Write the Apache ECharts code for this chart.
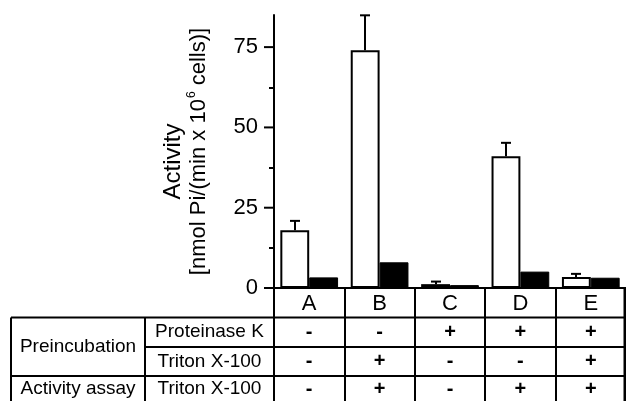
<!DOCTYPE html>
<html><head><meta charset="utf-8">
<script src="https://cdn.jsdelivr.net/npm/echarts@6/dist/echarts.min.js"></script>
<style>html,body{margin:0;padding:0;background:#fff}#c{width:626px;height:401px}</style>
</head><body><div id="c"></div>
<script>
const categories = ['A', 'B', 'C', 'D', 'E'];
const whiteValues = [18.0, 74.0, 1.2, 41.0, 3.4];
const whiteErrors = [2.9, 10.9, 0.8, 4.2, 1.0];
const blackValues = [3.3, 8.0, 0.9, 5.1, 3.2];
const yTicks = [0, 25, 50, 75];
const yMinorTicks = [12.5, 37.5, 62.5];
const proteinaseK = ['-', '-', '+', '+', '+'];
const tritonPre = ['-', '+', '-', '-', '+'];
const tritonAssay = ['-', '+', '-', '+', '+'];
const groupLabels = ['Preincubation', 'Activity assay'];
const rowLabels = ['Proteinase K', 'Triton X-100', 'Triton X-100'];

const FONT = '"Liberation Sans", Arial, sans-serif';
const catGap = 0.18;
const chart = echarts.init(document.getElementById('c'), null, {renderer: 'canvas'});

const option = {
  animation: false,
  backgroundColor: '#fff',
  textStyle: {fontFamily: FONT, color: '#000'},
  grid: {left: 274, top: 15, width: 353, height: 273},
  xAxis: {
    type: 'category',
    data: categories,
    axisLine: {show: true, lineStyle: {color: '#000', width: 2}},
    axisTick: {show: true, interval: 0, length: 113, lineStyle: {color: '#000', width: 2}},
    axisLabel: {fontSize: 22, color: '#000', margin: 5, fontFamily: FONT}
  },
  yAxis: [{
    type: 'value', min: 0, max: 85, position: 'left',
    axisLine: {show: true, lineStyle: {color: '#000', width: 2}},
    axisTick: {show: false},
    axisLabel: {customValues: yTicks, fontSize: 22, color: '#000', margin: 16, fontFamily: FONT,
      backgroundColor: 'transparent'},
    splitLine: {show: false},
    name: '{a|Activity}\n{b|[nmol Pi/(min x 10}{s|6}{b| cells)]}',
    nameLocation: 'middle',
    nameGap: 63,
    nameTextStyle: {
      fontFamily: FONT, color: '#000',
      rich: {
        a: {fontSize: 24, fontFamily: FONT, color: '#000', lineHeight: 25, padding: [0, 20, 0, 0]},
        b: {fontSize: 22, fontFamily: FONT, color: '#000', lineHeight: 25},
        s: {fontSize: 12, fontFamily: FONT, color: '#000', lineHeight: 25, verticalAlign: 'top', padding: [0, 0, 0, 1]}
      }
    }
  }, {
    type: 'value', min: 0, max: 85, position: 'left',
    axisLine: {show: false},
    axisLabel: {show: false},
    axisTick: {show: true, customValues: yMinorTicks, length: 5, lineStyle: {color: '#000', width: 2}},
    splitLine: {show: false}
  }],
  series: [{
    type: 'bar', name: 'white', data: whiteValues,
    barGap: '0%', barCategoryGap: (catGap * 100) + '%',
    itemStyle: {color: '#fff', borderColor: '#000', borderWidth: 2}
  }, {
    type: 'bar', name: 'black', data: blackValues,
    barGap: '0%', barCategoryGap: (catGap * 100) + '%',
    itemStyle: {color: '#000', borderColor: '#000', borderWidth: 1}
  }, {
    type: 'custom', name: 'error', z: 5, clip: false,
    data: whiteValues.map((v, i) => [i, v, whiteErrors[i]]),
    encode: {x: 0, y: 1},
    renderItem: function (params, api) {
      const i = api.value(0), v = api.value(1), e = api.value(2);
      const cw = api.size([1, 0])[0];
      const bw = cw * (1 - catGap) / 2;
      const base = api.coord([i, v]);
      const top = api.coord([i, v + e]);
      const x = Math.round(base[0] - bw / 2);
      const cap = 5;
      return {type: 'group', children: [
        {type: 'line', shape: {x1: x, y1: base[1], x2: x, y2: top[1]}, style: {stroke: '#000', lineWidth: 2}},
        {type: 'line', shape: {x1: x - cap, y1: top[1], x2: x + cap, y2: top[1]}, style: {stroke: '#000', lineWidth: 2}}
      ]};
    }
  }, {
    // major y-axis ticks at the labelled values
    type: 'custom', name: 'majorTicks', z: 20, silent: true, clip: false,
    data: yTicks.map(v => [0, v]),
    encode: {x: 0, y: 1},
    renderItem: function (params, api) {
      const y = api.coord([0, api.value(1)])[1];
      const x0 = params.coordSys.x;
      return {type: 'line', shape: {x1: x0 - 10, y1: y, x2: x0, y2: y}, style: {stroke: '#000', lineWidth: 2}};
    }
  }]
};
chart.setOption(option);

// Table below the chart
const colX = categories.map(c => chart.convertToPixel({xAxisIndex: 0}, c));
const rowY = [332, 361.5, 389];
const lineStyle = {stroke: '#000', lineWidth: 2};
const g = [];
function hl(x1, x2, y) { g.push({type: 'line', shape: {x1: x1, y1: y, x2: x2, y2: y}, style: lineStyle, z: 10}); }
function vl(x, y1, y2) { g.push({type: 'line', shape: {x1: x, y1: y1, x2: x, y2: y2}, style: lineStyle, z: 10}); }
hl(11, 627, 317.5);
hl(145, 627, 347);
hl(11, 627, 376);
vl(11, 317.5, 402);
vl(145, 317.5, 402);
vl(624.5, 288, 402);
function txt(s, x, y, size, weight) {
  g.push({type: 'text', x: x, y: y, z: 10, style: {text: s, x: 0, y: 0, align: 'center', verticalAlign: 'middle', font: (weight || 'normal') + ' ' + size + 'px ' + FONT, fill: '#000'}});
}
txt(groupLabels[0], 78, 347, 19);
txt(groupLabels[1], 78, 389, 19);
rowLabels.forEach((s, r) => txt(s, 209.5, rowY[r], 19));
[proteinaseK, tritonPre, tritonAssay].forEach((row, r) => {
  row.forEach((s, i) => txt(s, colX[i], rowY[r], 20, 'bold'));
});
chart.setOption({graphic: {elements: g}});
</script>
</body></html>
